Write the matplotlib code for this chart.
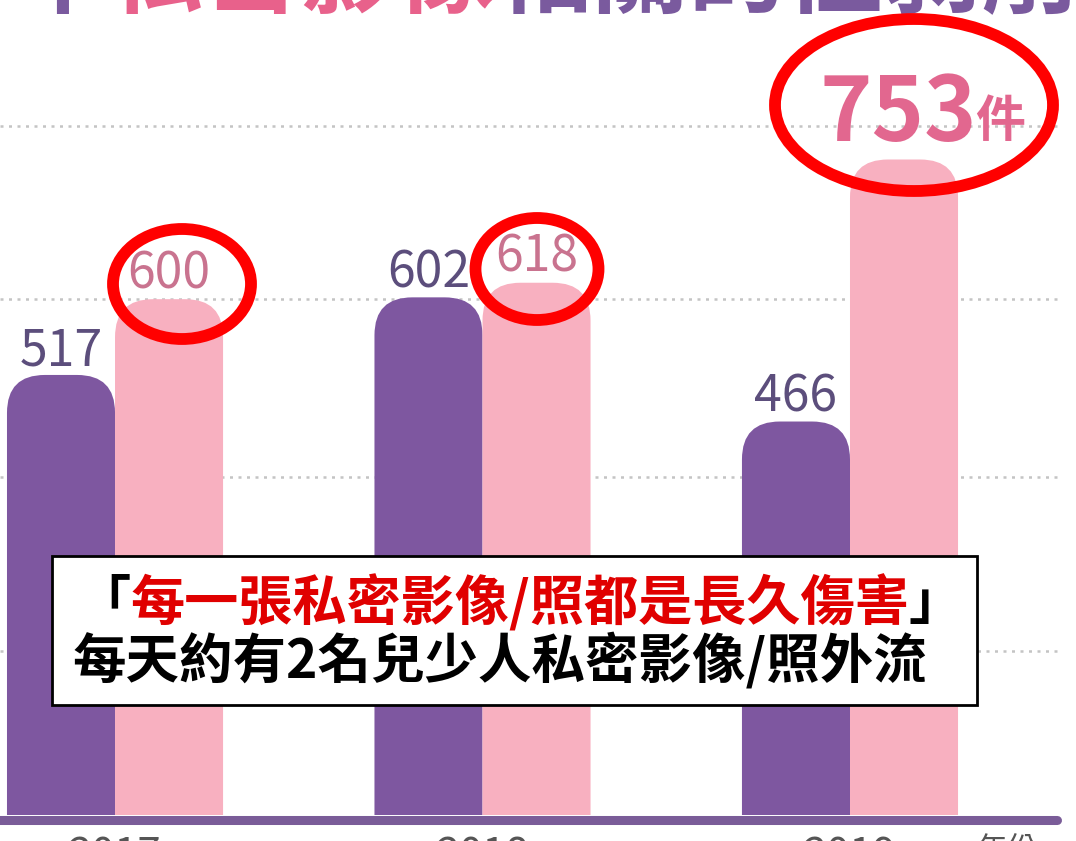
import matplotlib.pyplot as plt
from matplotlib.patches import FancyBboxPatch, Ellipse, Rectangle

plt.rcParams['font.family'] = ['Noto Sans CJK TC', 'DejaVu Sans']

# data
years = ["2017", "2018", "2019"]
purple_vals = [517, 602, 466]
pink_vals = [600, 618, 753]
grid_vals = [215, 405, 600, 790]
x_unit = "年份"

title_parts = [("年", "#7a5a9e"), ("私密影像", "#e8618b"), ("相關的性剝削", "#7a5a9e")]
box_line1 = [("「", "black"), ("每一張私密影像/照都是長久傷害", "#e00000"), ("」", "black")]
box_line2 = "每天約有2名兒少人私密影像/照外流"

purple = "#7e57a0"
pink = "#f8b0c0"
W, H = 1076, 841


def fpos(x, y):
    # pixel (from top-left) -> figure fraction
    return x / W, 1 - y / H


fig = plt.figure(figsize=(W / 100, H / 100), dpi=100)
ax = fig.add_axes([0, 26 / H, 1, 815 / H])
ax.set_xlim(-0.313, 2.615)
ax.set_ylim(35.0, 927.7)
ax.axis("off")
ft = fig.transFigure

xs = list(range(len(years)))
w = 0.294
r = 0.103
asp = 402.5

# gridlines
for g in grid_vals:
    ax.plot([-0.313, 2.57], [g, g], color="#c4c4c4", lw=1.8,
            linestyle=(0, (1.2, 2.2)), zorder=1)

# bars with rounded tops
bars_p = ax.bar([x - w / 2 for x in xs], purple_vals, w, color=purple)
bars_k = ax.bar([x + w / 2 for x in xs], pink_vals, w, color=pink)
for bars in (bars_p, bars_k):
    for rect in bars:
        rect.set_visible(False)
        fb = FancyBboxPatch((rect.get_x(), -100), rect.get_width(),
                            rect.get_height() + 100,
                            boxstyle=f"round,pad=0,rounding_size={r}",
                            mutation_aspect=asp,
                            facecolor=rect.get_facecolor(), edgecolor="none",
                            zorder=2)
        ax.add_patch(fb)

# baseline
ax.plot([-0.35, 2.563], [29.6, 29.6], color="#7a5c98", lw=6.5,
        solid_capstyle="round", clip_on=False, zorder=3)

# value labels
for x, v in zip(xs, purple_vals):
    ax.annotate(str(v), xy=(x - w / 2, v), xytext=(0, 7), textcoords="offset points",
                ha="center", va="baseline", fontsize=36, color="#5c4e7c", zorder=4)
for x, v in zip(xs[:2], pink_vals[:2]):
    ax.annotate(str(v), xy=(x + w / 2, v), xytext=(0, 8), textcoords="offset points",
                ha="center", va="baseline", fontsize=36, color="#c9738f", zorder=4)
ax.annotate(str(pink_vals[2]), xy=(xs[2] + w / 2, pink_vals[2]), xytext=(-4, 13),
            textcoords="offset points", ha="center", va="baseline",
            fontsize=64, fontweight="bold", color="#e2678f", zorder=4)
ax.annotate("件", xy=(xs[2] + w / 2, pink_vals[2]), xytext=(51, 16),
            textcoords="offset points", ha="left", va="baseline",
            fontsize=36, fontweight="bold", color="#e2678f", zorder=4)

# year labels (cut at the bottom)
for x, yr in zip(xs, years):
    fig.text(*fpos(115 + 367.5 * x, 836), yr, ha="center", va="top",
             fontsize=30, color="#555555")
fig.text(*fpos(1007, 836), x_unit, ha="center", va="top", fontsize=22, color="#555555")

# title (cut at the top)
prev = fig.text(*fpos(8, 26), title_parts[0][0], ha="left", va="bottom",
                fontsize=70, fontweight="bold", color=title_parts[0][1])
for s, c in title_parts[1:]:
    prev = ax.annotate(s, xy=(1, 0), xycoords=prev, ha="left", va="bottom",
                       fontsize=70, fontweight="bold", color=c)

# red circles
circles = [((182, 284), 138, 110), ((537, 269), 123, 102), ((914, 105), 278, 172)]
for (cx, cy), ew, eh in circles:
    e = Ellipse(fpos(cx, cy), ew / W, eh / H, transform=ft, fill=False,
                edgecolor="#ff0000", lw=8.5, zorder=10, clip_on=False)
    ax.add_patch(e)

# text box
x0, y0 = fpos(52, 705)
box = Rectangle((x0, y0), (977 - 52) / W, (705 - 556) / H, transform=ft,
                facecolor="white", edgecolor="black", lw=2, zorder=11, clip_on=False)
ax.add_patch(box)

prev = ax.text(*fpos(76, 604), box_line1[0][0], transform=ft, ha="left", va="center",
               fontsize=39, fontweight="bold", color=box_line1[0][1], zorder=12)
for s, c in box_line1[1:]:
    prev = ax.annotate(s, xy=(1, 0.5), xycoords=prev, ha="left", va="center",
                       fontsize=39, fontweight="bold", color=c, zorder=12)
ax.text(*fpos(73, 661), box_line2, transform=ft, ha="left", va="center",
        fontsize=38.5, fontweight="bold", color="black", zorder=12)

fig.savefig("out.png", dpi=100)
